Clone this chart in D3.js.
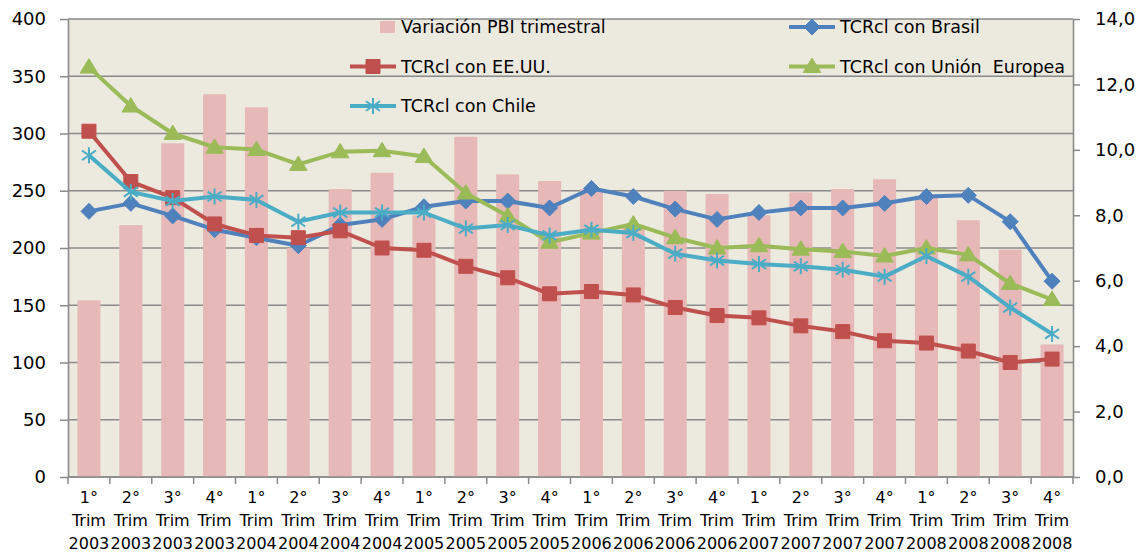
<!DOCTYPE html>
<html>
<head>
<meta charset="utf-8">
<script src="https://cdn.jsdelivr.net/npm/d3@7"></script>
<style>
  body { margin: 0; background: #fff; }
  text { font-family: "DejaVu Sans", Verdana, sans-serif; fill: #000; white-space: pre; }
</style>
</head>
<body>
<div id="container"></div>
<script>
const width = 1139;
const height = 552;

// data
const quarters = ["1°", "2°", "3°", "4°", "1°", "2°", "3°", "4°", "1°", "2°", "3°", "4°",
                  "1°", "2°", "3°", "4°", "1°", "2°", "3°", "4°", "1°", "2°", "3°", "4°"];
const years = ["2003", "2003", "2003", "2003", "2004", "2004", "2004", "2004", "2005", "2005", "2005", "2005",
               "2006", "2006", "2006", "2006", "2007", "2007", "2007", "2007", "2008", "2008", "2008", "2008"];
const pbi = [5.4, 7.7, 10.2, 11.7, 11.3, 7.0, 8.8, 9.3, 8.0, 10.4, 9.25, 9.05,
             8.8, 7.7, 8.75, 8.65, 8.0, 8.7, 8.8, 9.1, 8.6, 7.85, 6.95, 4.05];
const brasil = [232, 239, 228, 216, 209, 202, 220, 225, 236, 241, 241, 235,
                252, 245, 234, 225, 231, 235, 235, 239, 245, 246, 223, 171];
const eeuu = [302, 258, 244, 221, 211, 209, 215, 200, 198, 184, 174, 160,
              162, 159, 148, 141, 139, 132, 127, 119, 117, 110, 100, 103];
const ue = [358, 324, 300, 288, 286, 273, 284, 285, 280, 248, 228, 205,
            213, 221, 209, 200, 202, 199, 197, 193, 200, 194, 169, 155];
const chile = [281, 249, 241, 245, 242, 223, 231, 231, 231, 217, 220, 211,
               216, 213, 195, 189, 186, 184, 181, 175, 193, 175, 148, 125];
const leftTicks = [0, 50, 100, 150, 200, 250, 300, 350, 400];
const rightTicks = [0, 2, 4, 6, 8, 10, 12, 14];

const margin = {top: 19, right: 66, bottom: 75, left: 68};
const x0 = margin.left, x1 = width - margin.right;
const y0 = height - margin.bottom, y1 = margin.top;

const idx = d3.range(quarters.length);
const x = d3.scaleBand().domain(idx).range([x0, x1]).paddingInner(0.45).paddingOuter(0.225);
const xc = i => x(i) + x.bandwidth() / 2;
const yL = d3.scaleLinear().domain([0, 400]).range([y0, y1]);
const yR = d3.scaleLinear().domain([0, 14]).range([y0, y1]);

const gray = "#8a8a8a";

const svg = d3.select("#container")
              .append("svg")
              .attr("width", width)
              .attr("height", height);

svg.append("rect")
   .attr("x", x0).attr("y", y1)
   .attr("width", x1 - x0).attr("height", y0 - y1)
   .attr("fill", "#ece9df");

// gridlines
svg.append("g")
   .selectAll("line")
   .data(leftTicks)
   .enter()
   .append("line")
   .attr("x1", x0).attr("x2", x1)
   .attr("y1", d => yL(d)).attr("y2", d => yL(d))
   .attr("stroke", gray)
   .attr("stroke-width", 1.6);

// bars
svg.append("g")
   .selectAll("rect")
   .data(pbi)
   .enter()
   .append("rect")
   .attr("x", (d, i) => x(i))
   .attr("width", x.bandwidth())
   .attr("y", d => yR(d))
   .attr("height", d => y0 - yR(d))
   .attr("fill", "#e6b8b7");

// axes
const leftAxis = svg.append("g")
   .attr("transform", "translate(" + x0 + ",0)")
   .call(d3.axisLeft(yL).tickValues(leftTicks).tickSize(8).tickPadding(14).tickSizeOuter(0));
const rightAxis = svg.append("g")
   .attr("transform", "translate(" + x1 + ",0)")
   .call(d3.axisRight(yR).tickValues(rightTicks).tickSize(7).tickPadding(15).tickSizeOuter(0)
           .tickFormat(d => d3.format(".1f")(d).replace(".", ",")));
const xTicks = d3.range(quarters.length + 1).map(i => x0 + i * (x1 - x0) / quarters.length);
svg.append("g")
   .selectAll("line")
   .data(xTicks)
   .enter()
   .append("line")
   .attr("x1", d => d).attr("x2", d => d)
   .attr("y1", y0).attr("y2", y0 + 7)
   .attr("stroke", gray)
   .attr("stroke-width", 1.5);
svg.append("line")
   .attr("x1", x0).attr("x2", x1)
   .attr("y1", y0).attr("y2", y0)
   .attr("stroke", gray).attr("stroke-width", 1.6);

[leftAxis, rightAxis].forEach(a => {
  a.select(".domain").attr("stroke", gray).attr("stroke-width", 1.6);
  a.selectAll(".tick line").attr("stroke", gray).attr("stroke-width", 1.5);
  a.selectAll(".tick text").attr("font-size", 18).attr("fill", "#000");
});

// category labels
const xl = svg.append("g")
   .selectAll("text")
   .data(idx)
   .enter()
   .append("text")
   .attr("text-anchor", "middle")
   .attr("font-size", 16);
xl.append("tspan").attr("x", i => xc(i)).attr("y", 503).text(i => quarters[i]);
xl.append("tspan").attr("x", i => xc(i)).attr("y", 526).text("Trim");
xl.append("tspan").attr("x", i => xc(i)).attr("y", 549).text(i => years[i]);

// markers
const diamond = s => `M0,${-s}L${s},0L0,${s}L${-s},0Z`;
const square = s => `M${-s},${-s}H${s}V${s}H${-s}Z`;
const triangle = s => `M0,${-s * 1.05}L${s * 1.1},${s * 0.75}H${-s * 1.1}Z`;
const star = s => `M0,${-s}V${s}M${-s * 0.87},${-s * 0.6}L${s * 0.87},${s * 0.6}M${-s * 0.87},${s * 0.6}L${s * 0.87},${-s * 0.6}`;

const series = [
  {name: "TCRcl con Brasil", values: brasil, color: "#4f81bd", marker: diamond, size: 8, fill: true},
  {name: "TCRcl con EE.UU.", values: eeuu, color: "#c0504d", marker: square, size: 7, fill: true},
  {name: "TCRcl con Unión  Europea", values: ue, color: "#9bbb59", marker: triangle, size: 8, fill: true},
  {name: "TCRcl con Chile", values: chile, color: "#4bacc6", marker: star, size: 8, fill: false}
];

const line = d3.line().x((d, i) => xc(i)).y(d => yL(d));

series.forEach(s => {
  const g = svg.append("g");
  g.append("path")
   .attr("d", line(s.values))
   .attr("fill", "none")
   .attr("stroke", s.color)
   .attr("stroke-width", 4)
   .attr("stroke-linejoin", "round");
  g.selectAll("path.m")
   .data(s.values)
   .enter()
   .append("path")
   .attr("class", "m")
   .attr("transform", (d, i) => "translate(" + xc(i) + "," + yL(d) + ")")
   .attr("d", s.marker(s.size))
   .attr("fill", s.fill ? s.color : "none")
   .attr("stroke", s.color)
   .attr("stroke-width", s.fill ? 1 : 2);
});

// legend
const legendItems = [
  {type: "bar", name: "Variación PBI trimestral", x: 380, y: 27, color: "#e6b8b7"},
  {type: "line", s: series[0], x: 789, y: 27},
  {type: "line", s: series[1], x: 350, y: 66.5},
  {type: "line", s: series[2], x: 789, y: 66.5},
  {type: "line", s: series[3], x: 350, y: 106}
];
const legend = svg.append("g");
legendItems.forEach(it => {
  const g = legend.append("g").attr("transform", "translate(" + it.x + "," + it.y + ")");
  let tx;
  if (it.type === "bar") {
    g.append("rect").attr("x", 0).attr("y", -6).attr("width", 15).attr("height", 12).attr("fill", it.color);
    tx = 21;
  } else {
    const s = it.s;
    g.append("line").attr("x1", 0).attr("x2", 46).attr("y1", 0).attr("y2", 0)
     .attr("stroke", s.color).attr("stroke-width", 4);
    g.append("path").attr("transform", "translate(23,0)").attr("d", s.marker(s.size))
     .attr("fill", s.fill ? s.color : "none").attr("stroke", s.color).attr("stroke-width", s.fill ? 1 : 2);
    tx = 51;
    it.name = s.name;
  }
  g.append("text")
   .attr("x", tx)
   .attr("y", 0)
   .attr("dy", "0.36em")
   .attr("font-size", 17.5)
   .text(it.name);
});
</script>
</body>
</html>
